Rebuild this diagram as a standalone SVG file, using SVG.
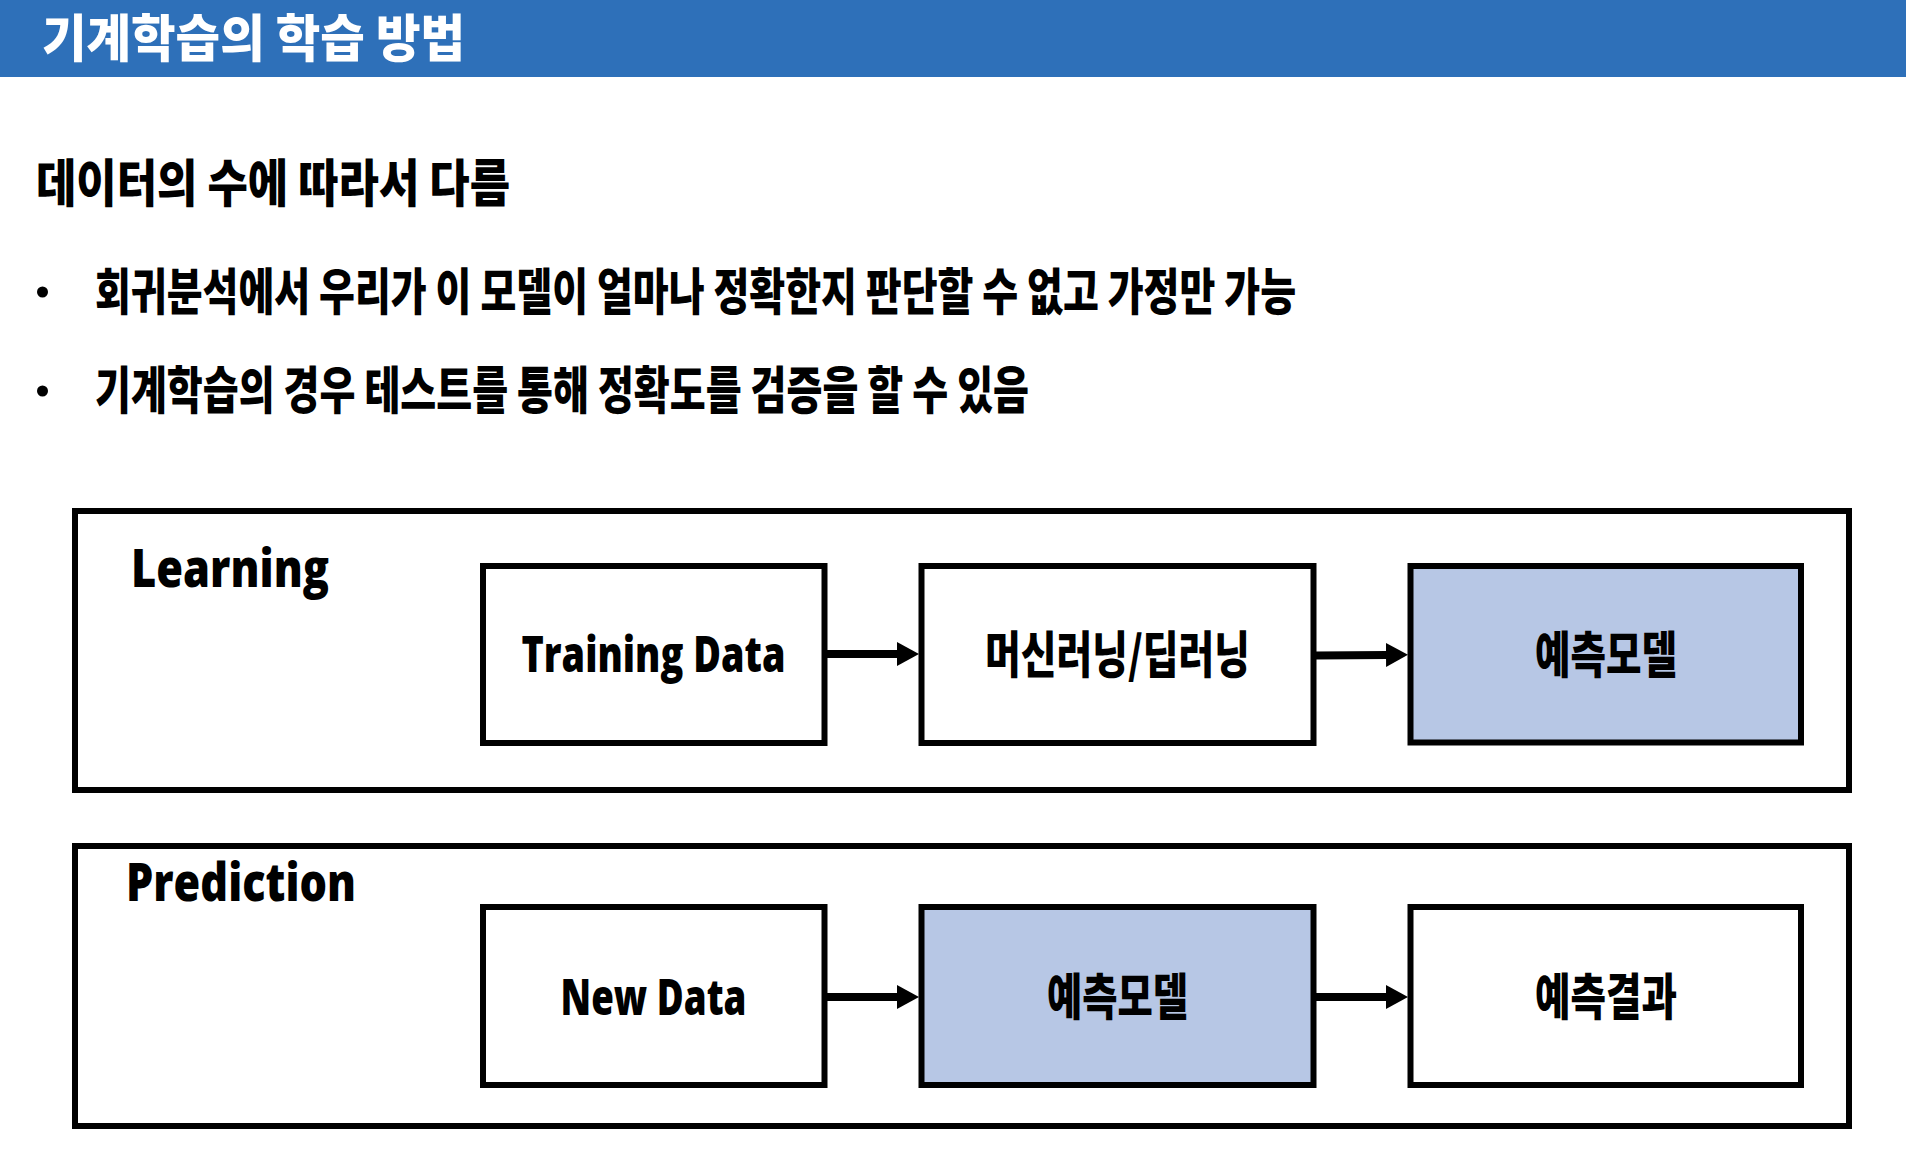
<svg xmlns="http://www.w3.org/2000/svg" width="1906" height="1174" viewBox="0 0 1906 1174">
<style>
.ko{font-family:"Noto Sans CJK KR","Noto Sans",sans-serif;font-weight:900;fill:#000}
.en{font-family:"Open Sans","Noto Sans",sans-serif;font-weight:800;fill:#000}
.frame{fill:#fff;stroke:#000;stroke-width:6}
.box{fill:#fff;stroke:#000;stroke-width:6}
.model{fill:#b7c7e5;stroke:#000;stroke-width:6}
.conn{stroke:#000;stroke-width:8;fill:none}
</style>
<defs>
<marker id="ah" markerUnits="userSpaceOnUse" markerWidth="24" markerHeight="26" refX="1" refY="12" orient="auto">
<path d="M0,0 L22,12 L0,24 z" fill="#000"/>
</marker>
</defs>
<rect width="1906" height="1174" fill="#fff"/>
<g id="header">
<rect x="0" y="0" width="1906" height="77" fill="#2e70b9"/>
<text class="ko" x="42" y="57" font-size="51" style="fill:#fff" textLength="423" lengthAdjust="spacingAndGlyphs">기계학습의 학습 방법</text>
</g>
<g id="subtitle">
<text class="ko" x="36" y="202" font-size="51" textLength="474" lengthAdjust="spacingAndGlyphs">데이터의 수에 따라서 다름</text>
</g>
<g id="bullet1">
<circle cx="42.5" cy="292" r="5.5" fill="#000"/>
<text class="ko" x="95" y="310" font-size="50" textLength="1201" lengthAdjust="spacingAndGlyphs">회귀분석에서 우리가 이 모델이 얼마나 정확한지 판단할 수 없고 가정만 가능</text>
</g>
<g id="bullet2">
<circle cx="42.5" cy="391" r="5.5" fill="#000"/>
<text class="ko" x="95" y="409" font-size="51" textLength="934" lengthAdjust="spacingAndGlyphs">기계학습의 경우 테스트를 통해 정확도를 검증을 할 수 있음</text>
</g>
<g id="learning">
<rect class="frame" x="75" y="511" width="1774" height="279"/>
<text class="en" x="131" y="587" font-size="53" textLength="198" lengthAdjust="spacingAndGlyphs">Learning</text>
</g>
<g id="prediction">
<rect class="frame" x="75" y="846" width="1774" height="280"/>
<text class="en" x="126" y="901" font-size="53" textLength="230" lengthAdjust="spacingAndGlyphs">Prediction</text>
</g>
<g id="training-data">
<rect class="box" x="483" y="566" width="341.5" height="177"/>
<text class="en" x="653.5" y="672" font-size="49" text-anchor="middle" textLength="264" lengthAdjust="spacingAndGlyphs">Training Data</text>
</g>
<g id="ml-dl">
<rect class="box" x="921.5" y="566" width="392" height="177"/>
<text class="ko" x="1117.5" y="673" font-size="50" text-anchor="middle" textLength="265" lengthAdjust="spacingAndGlyphs">머신러닝/딥러닝</text>
</g>
<g id="model-learning">
<rect class="model" x="1410.5" y="566" width="390.5" height="176.5"/>
<text class="ko" x="1606" y="673" font-size="50" text-anchor="middle" textLength="142" lengthAdjust="spacingAndGlyphs">예측모델</text>
</g>
<g id="new-data">
<rect class="box" x="483" y="907" width="341.5" height="178"/>
<text class="en" x="653.5" y="1015" font-size="50" text-anchor="middle" textLength="186" lengthAdjust="spacingAndGlyphs">New Data</text>
</g>
<g id="model-prediction">
<rect class="model" x="921.5" y="907" width="392" height="178"/>
<text class="ko" x="1117.5" y="1015" font-size="50" text-anchor="middle" textLength="141" lengthAdjust="spacingAndGlyphs">예측모델</text>
</g>
<g id="result">
<rect class="box" x="1410.5" y="907" width="390.5" height="178"/>
<text class="ko" x="1606" y="1015" font-size="50" text-anchor="middle" textLength="142" lengthAdjust="spacingAndGlyphs">예측결과</text>
</g>
<g id="connectors">
<line class="conn" x1="827" y1="654" x2="898" y2="654" marker-end="url(#ah)"/>
<line class="conn" x1="1316" y1="655.5" x2="1387" y2="655" marker-end="url(#ah)"/>
<line class="conn" x1="827" y1="997" x2="898" y2="997" marker-end="url(#ah)"/>
<line class="conn" x1="1316" y1="997" x2="1387" y2="997" marker-end="url(#ah)"/>
</g>
</svg>
